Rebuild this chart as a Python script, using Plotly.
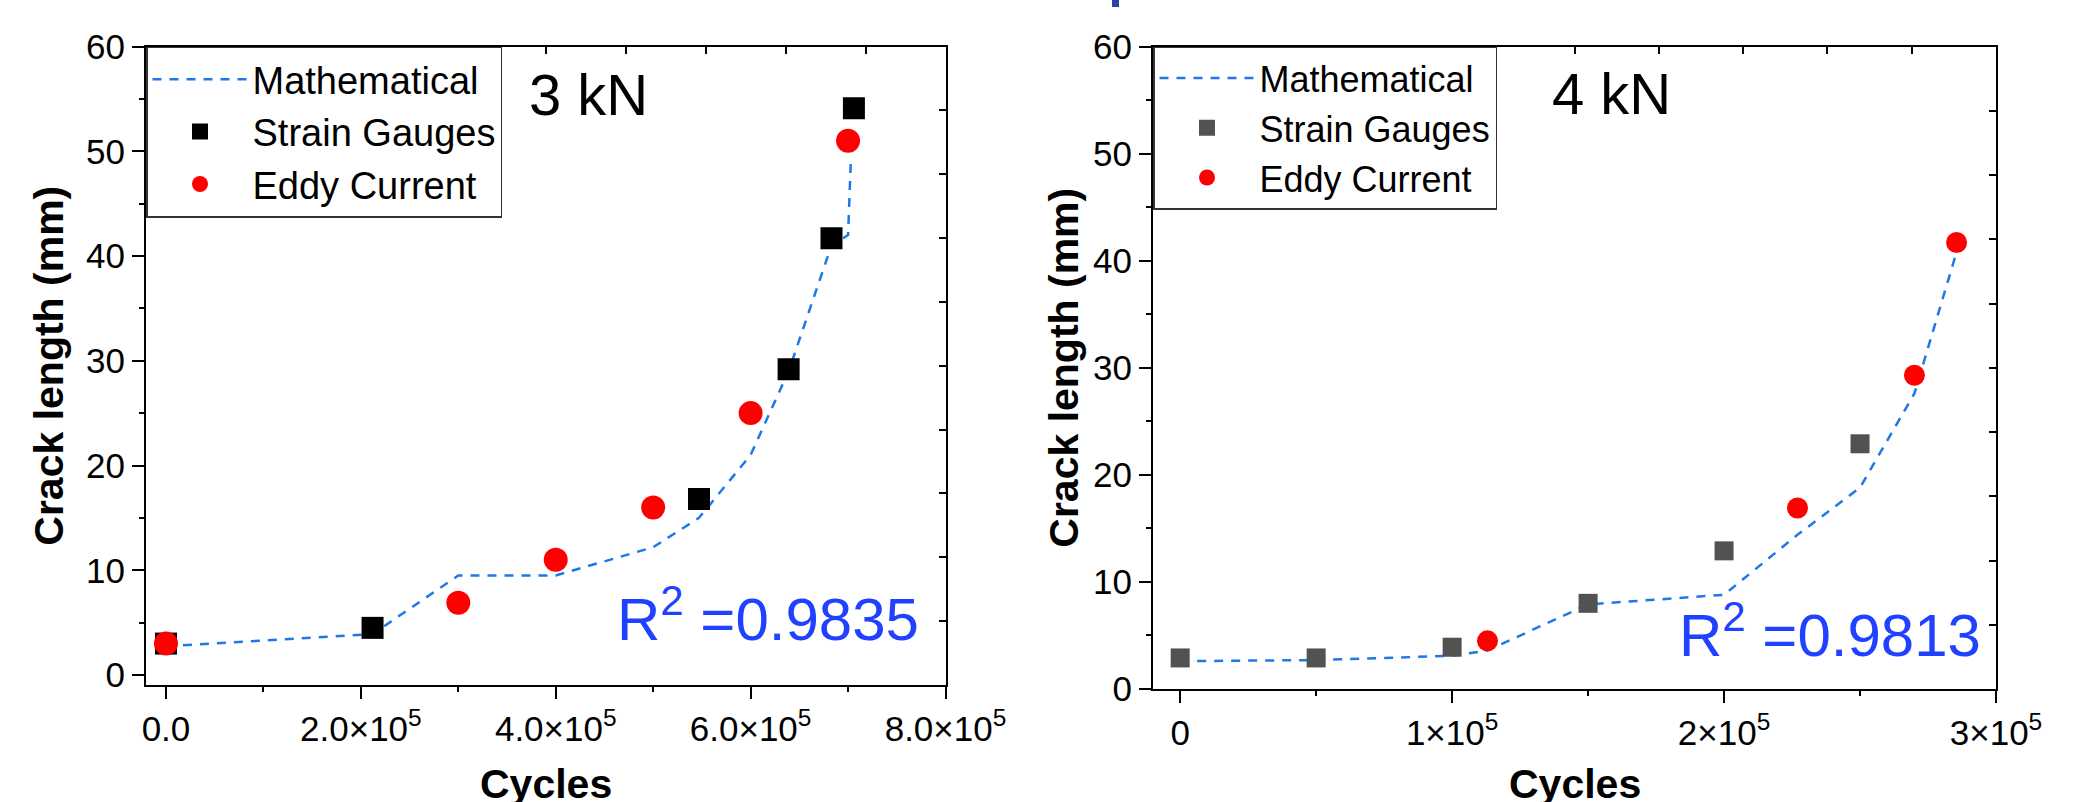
import plotly.graph_objects as go

# ---------------- data: 3 kN ----------------
cycles_math_3kn = [0, 2.12e5, 3.0e5, 4.0e5, 5.0e5, 5.47e5, 6.0e5, 6.39e5, 6.83e5, 7.0e5, 7.03e5]
crack_math_3kn = [2.75, 3.9, 9.5, 9.5, 12.2, 15.0, 21.0, 29.0, 41.0, 42.0, 49.5]
cycles_sg_3kn = [0, 2.12e5, 5.47e5, 6.39e5, 6.83e5, 7.06e5]
crack_sg_3kn = [3.0, 4.5, 16.8, 29.2, 41.7, 54.1]
cycles_ec_3kn = [0, 3.0e5, 4.0e5, 5.0e5, 6.0e5, 7.0e5]
crack_ec_3kn = [3.0, 6.9, 11.0, 16.0, 25.0, 51.0]

# ---------------- data: 4 kN ----------------
cycles_math_4kn = [0, 0.5e5, 1.0e5, 1.13e5, 1.5e5, 2.0e5, 2.27e5, 2.5e5, 2.70e5, 2.855e5]
crack_math_4kn = [2.6, 2.7, 3.1, 3.6, 7.9, 8.8, 14.4, 18.8, 27.6, 40.8]
cycles_sg_4kn = [0, 0.5e5, 1.0e5, 1.5e5, 2.0e5, 2.5e5]
crack_sg_4kn = [2.9, 2.9, 3.9, 8.0, 12.9, 22.9]
cycles_ec_4kn = [1.13e5, 2.27e5, 2.70e5, 2.855e5]
crack_ec_4kn = [4.5, 16.9, 29.3, 41.7]

# ---------------- ticks / labels ----------------
x_ticks_3kn = [0, 2e5, 4e5, 6e5, 8e5]
x_ticktext_3kn = ["0.0", "2.0×10<sup>5</sup>", "4.0×10<sup>5</sup>", "6.0×10<sup>5</sup>", "8.0×10<sup>5</sup>"]
x_ticks_4kn = [0, 1e5, 2e5, 3e5]
x_ticktext_4kn = ["0", "1×10<sup>5</sup>", "2×10<sup>5</sup>", "3×10<sup>5</sup>"]
y_ticks = [0, 10, 20, 30, 40, 50, 60]
x_title = "Cycles"
y_title = "Crack length (mm)"
r2_3kn = "R<sup>2</sup> =0.9835"
r2_4kn = "R<sup>2</sup> =0.9813"

FONT = "Liberation Sans, Arial, sans-serif"
LINE_BLUE = "#1e78e6"
W, H = 2075, 802

x_range_3kn = [-20500, 800000]
y_range_3kn = [-0.955, 60]
x_range_4kn = [-10000, 300000]
y_range_4kn = [0, 60]

dom_x1 = [146 / W, 945.5 / W]
dom_x2 = [1153 / W, 1996 / W]
dom_y1 = [(H - 685) / H, (H - 46.5) / H]
dom_y2 = [(H - 689) / H, (H - 46.5) / H]


def divisions(rng, n=10):
    step = (rng[1] - rng[0]) / n
    return [rng[0] + step * k for k in range(1, n)]


fig = go.Figure()

# ---- left panel traces ----
fig.add_trace(go.Scatter(x=cycles_math_3kn, y=crack_math_3kn, mode="lines", name="Mathematical",
                         line=dict(color=LINE_BLUE, width=2.5, dash="9px,8px"),
                         xaxis="x", yaxis="y", legend="legend"))
fig.add_trace(go.Scatter(x=cycles_sg_3kn, y=crack_sg_3kn, mode="markers", name="Strain Gauges",
                         marker=dict(symbol="square", size=22, color="#000000"),
                         xaxis="x", yaxis="y", legend="legend"))
fig.add_trace(go.Scatter(x=cycles_ec_3kn, y=crack_ec_3kn, mode="markers", name="Eddy Current",
                         marker=dict(symbol="circle", size=24, color="#ff0000"),
                         xaxis="x", yaxis="y", legend="legend"))

# ---- right panel traces ----
fig.add_trace(go.Scatter(x=cycles_math_4kn, y=crack_math_4kn, mode="lines", name="Mathematical",
                         line=dict(color=LINE_BLUE, width=2.5, dash="9px,8px"),
                         xaxis="x2", yaxis="y2", legend="legend2"))
fig.add_trace(go.Scatter(x=cycles_sg_4kn, y=crack_sg_4kn, mode="markers", name="Strain Gauges",
                         marker=dict(symbol="square", size=19, color="#525252"),
                         xaxis="x2", yaxis="y2", legend="legend2"))
fig.add_trace(go.Scatter(x=cycles_ec_4kn, y=crack_ec_4kn, mode="markers", name="Eddy Current",
                         marker=dict(symbol="circle", size=21, color="#ff0000"),
                         xaxis="x2", yaxis="y2", legend="legend2"))

# dummy traces so the inner-tick overlay axes are drawn
fig.add_trace(go.Scatter(x=[None], y=[None], xaxis="x3", yaxis="y3", showlegend=False, hoverinfo="skip"))
fig.add_trace(go.Scatter(x=[None], y=[None], xaxis="x4", yaxis="y4", showlegend=False, hoverinfo="skip"))

tickfont = dict(family=FONT, size=35, color="black")
titlefont = dict(family=FONT, size=41, color="black", weight="bold")

common_main = dict(showgrid=False, zeroline=False, showline=True, linecolor="black", linewidth=2,
                   mirror=True, ticks="outside", ticklen=12, tickwidth=2, tickcolor="black",
                   tickfont=tickfont, automargin=False)
common_inner = dict(showgrid=False, zeroline=False, showline=False, ticks="inside", ticklen=7,
                    tickwidth=2, tickcolor="black", showticklabels=False, tickmode="array",
                    automargin=False)

fig.update_layout(
    width=W, height=H, margin=dict(l=0, r=0, t=0, b=0, autoexpand=False), autosize=False,
    paper_bgcolor="white", plot_bgcolor="white",
    font=dict(family=FONT, color="black"),
    showlegend=True,
    xaxis=dict(domain=dom_x1, anchor="y", range=x_range_3kn, tickmode="array",
               tickvals=x_ticks_3kn, ticktext=x_ticktext_3kn, ticklabelstandoff=0,
               minor=dict(dtick=1e5, tick0=0, ticks="outside", ticklen=5, tickwidth=2, tickcolor="black"),
               **common_main),
    yaxis=dict(domain=dom_y1, anchor="x", range=y_range_3kn, tickmode="array", tickvals=y_ticks,
               ticklabelstandoff=0,
               minor=dict(dtick=5, tick0=0, ticks="outside", ticklen=5, tickwidth=2, tickcolor="black"),
               title=dict(text=y_title, font=titlefont, standoff=10), **common_main),
    xaxis2=dict(domain=dom_x2, anchor="y2", range=x_range_4kn, tickmode="array",
                tickvals=x_ticks_4kn, ticktext=x_ticktext_4kn, ticklabelstandoff=0,
                minor=dict(dtick=0.5e5, tick0=0, ticks="outside", ticklen=5, tickwidth=2, tickcolor="black"),
                **common_main),
    yaxis2=dict(domain=dom_y2, anchor="x2", range=y_range_4kn, tickmode="array", tickvals=y_ticks,
                ticklabelstandoff=0,
                minor=dict(dtick=5, tick0=0, ticks="outside", ticklen=5, tickwidth=2, tickcolor="black"),
                title=dict(text=y_title, font=titlefont, standoff=2), **common_main),
    # inner ticks on top/right frame (10 equal divisions, as in the original)
    xaxis3=dict(overlaying="x", side="top", anchor="y3", range=x_range_3kn,
                tickvals=divisions(x_range_3kn), **common_inner),
    yaxis3=dict(overlaying="y", side="right", anchor="x3", range=y_range_3kn,
                tickvals=divisions(y_range_3kn), **common_inner),
    xaxis4=dict(overlaying="x2", side="top", anchor="y4", range=x_range_4kn,
                tickvals=divisions(x_range_4kn), **common_inner),
    yaxis4=dict(overlaying="y2", side="right", anchor="x4", range=y_range_4kn,
                tickvals=divisions(y_range_4kn), **common_inner),
    legend=dict(x=dom_x1[0], y=dom_y1[1], xanchor="left", yanchor="top",
                bgcolor="white", bordercolor="#333333", borderwidth=1.5,
                font=dict(family=FONT, size=38, color="black"), itemwidth=95,
                tracegroupgap=0),
    legend2=dict(x=dom_x2[0], y=dom_y2[1], xanchor="left", yanchor="top",
                 bgcolor="white", bordercolor="#333333", borderwidth=1.5,
                 font=dict(family=FONT, size=36, color="black"), itemwidth=95,
                 tracegroupgap=0),
)

annotations = [
    dict(text="3 kN", xref="paper", yref="paper", x=527 / W, y=(H - 94) / H, xanchor="left",
         yanchor="middle", showarrow=False, font=dict(family=FONT, size=58, color="black")),
    dict(text="4 kN", xref="paper", yref="paper", x=1550 / W, y=(H - 93) / H, xanchor="left",
         yanchor="middle", showarrow=False, font=dict(family=FONT, size=58, color="black")),
    dict(text=r2_3kn, xref="paper", yref="paper", x=921 / W, y=(H - 615) / H, xanchor="right",
         yanchor="middle", showarrow=False, font=dict(family=FONT, size=60, color="#2041ff")),
    dict(text=r2_4kn, xref="paper", yref="paper", x=1983 / W, y=(H - 631) / H, xanchor="right",
         yanchor="middle", showarrow=False, font=dict(family=FONT, size=60, color="#2041ff")),
    # x-axis titles (partly cut by the bottom edge, as in the original)
    dict(text="<b>" + x_title + "</b>", xref="paper", yref="paper", x=sum(dom_x1) / 2,
         y=(H - 759) / H, xanchor="center", yanchor="top", showarrow=False, font=titlefont),
    dict(text="<b>" + x_title + "</b>", xref="paper", yref="paper", x=sum(dom_x2) / 2,
         y=(H - 759) / H, xanchor="center", yanchor="top", showarrow=False, font=titlefont),
]
fig.update_layout(annotations=annotations)

# small fragment of cropped title text at the top edge
fig.add_shape(type="rect", xref="paper", yref="paper", x0=1112 / W, x1=1119 / W,
              y0=(H - 7) / H, y1=1.0, fillcolor="#2a45a0", line=dict(width=0))

fig.write_html("out.html", config={"displayModeBar": False},
               post_script="document.body.style.margin='0px';")
